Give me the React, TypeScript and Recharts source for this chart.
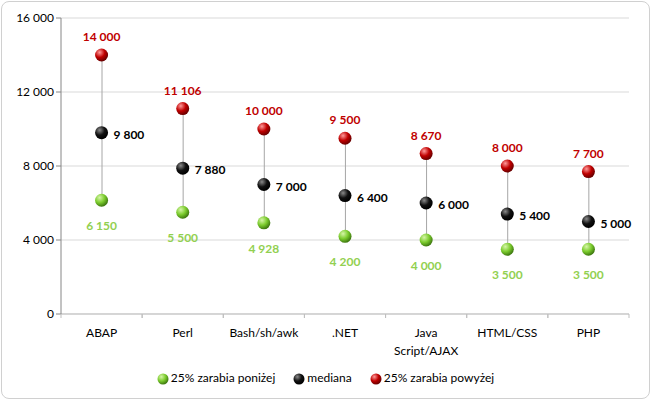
import React from 'react';
import {
  ComposedChart,
  Bar,
  Scatter,
  XAxis,
  YAxis,
  CartesianGrid,
  LabelList,
} from 'recharts';

const categories = ['ABAP', 'Perl', 'Bash/sh/awk', '.NET', 'Java\nScript/AJAX', 'HTML/CSS', 'PHP'];
const lower = [6150, 5500, 4928, 4200, 4000, 3500, 3500];
const median = [9800, 7880, 7000, 6400, 6000, 5400, 5000];
const upper = [14000, 11106, 10000, 9500, 8670, 8000, 7700];
const yTicks = [0, 4000, 8000, 12000, 16000];

const seriesNames = ['25% zarabia poniżej', 'mediana', '25% zarabia powyżej'];

const data = categories.map((name, i) => ({
  name,
  low: lower[i],
  mid: median[i],
  high: upper[i],
  range: [lower[i], upper[i]],
}));

const FONT = 'Lato, "Liberation Sans", sans-serif';
const fmt = (v: number) => v.toLocaleString('en-US').replace(/,/g, ' ');

const GRAD = {
  green: { id: 'gGreen', hi: '#d6f5a8', mid: '#7ccc2e', lo: '#3f7a10' },
  black: { id: 'gBlack', hi: '#8a8a8a', mid: '#111111', lo: '#000000' },
  red: { id: 'gRed', hi: '#ff9a9a', mid: '#c00000', lo: '#6a0000' },
};

const Ball = (grad: string) => (props: any) => {
  const { cx, cy } = props;
  if (cx == null || cy == null) return null;
  return <circle cx={cx} cy={cy} r={6.5} fill={`url(#${grad})`} />;
};

const RangeLine = (props: any) => {
  const { x, y, width, height } = props;
  if (x == null || y == null) return null;
  const cx = x + width / 2;
  return <line x1={cx} x2={cx} y1={y} y2={y + height} stroke="#a6a6a6" strokeWidth={1} />;
};

const BAND = (629 - 61) / categories.length;

const CategoryTick = (props: any) => {
  const { x, y, payload } = props;
  const lines = String(payload.value).split('\n');
  return (
    <g>
      <line x1={x - BAND / 2} x2={x - BAND / 2} y1={y - 8} y2={y - 4} stroke="#bfbfbf" />
      <line x1={x + BAND / 2} x2={x + BAND / 2} y1={y - 8} y2={y - 4} stroke="#bfbfbf" />
      {lines.map((l, i) => (
        <text
          key={i}
          x={x}
          y={y + 15 + i * 18}
          textAnchor="middle"
          fontSize={12}
          fontFamily={FONT}
          fill="#000"
        >
          {l}
        </text>
      ))}
    </g>
  );
};

const topLabel = (props: any) => {
  const { x, y, width, height, value } = props;
  const cx = x + (width || 0) / 2;
  const cy = y + (height || 0) / 2;
  return (
    <text x={cx} y={cy - 14} textAnchor="middle" fontSize={12} fontWeight="bold" fontFamily={FONT} fill="#c00000">
      {fmt(value)}
    </text>
  );
};

const rightLabel = (props: any) => {
  const { x, y, width, height, value } = props;
  const cx = x + (width || 0) / 2;
  const cy = y + (height || 0) / 2;
  return (
    <text x={cx + 12} y={cy + 6} textAnchor="start" fontSize={12} fontWeight="bold" fontFamily={FONT} fill="#000">
      {fmt(value)}
    </text>
  );
};

const bottomLabel = (props: any) => {
  const { x, y, width, height, value } = props;
  const cx = x + (width || 0) / 2;
  const cy = y + (height || 0) / 2;
  return (
    <text x={cx} y={cy + 30} textAnchor="middle" fontSize={12} fontWeight="bold" fontFamily={FONT} fill="#92d050">
      {fmt(value)}
    </text>
  );
};

function LegendBall({ color }: { color: string }) {
  const g = (GRAD as any)[color];
  return (
    <svg width={12} height={12} style={{ verticalAlign: 'middle', marginRight: 2 }}>
      <defs>
        <radialGradient id={`lg-${g.id}`} cx="35%" cy="30%" r="70%">
          <stop offset="0%" stopColor={g.hi} />
          <stop offset="55%" stopColor={g.mid} />
          <stop offset="100%" stopColor={g.lo} />
        </radialGradient>
      </defs>
      <circle cx={6} cy={6} r={5.5} fill={`url(#lg-${g.id})`} />
    </svg>
  );
}

export default function App() {
  return (
    <div
      style={{
        position: 'absolute',
        left: 0,
        top: 0,
        width: 651,
        height: 400,
        background: '#fff',
        fontFamily: FONT,
      }}
    >
      <div
        style={{
          position: 'absolute',
          left: 1,
          top: 1,
          width: 647,
          height: 396,
          border: '1px solid #d0d0d0',
          borderRadius: 8,
        }}
      />
      <ComposedChart
        width={651}
        height={400}
        data={data}
        margin={{ top: 18, right: 22, left: 0, bottom: 36 }}
      >
        <defs>
          {Object.values(GRAD).map((g) => (
            <radialGradient key={g.id} id={g.id} cx="35%" cy="30%" r="70%">
              <stop offset="0%" stopColor={g.hi} />
              <stop offset="55%" stopColor={g.mid} />
              <stop offset="100%" stopColor={g.lo} />
            </radialGradient>
          ))}
        </defs>
        <CartesianGrid vertical={false} stroke="#d9d9d9" />
        <XAxis
          dataKey="name"
          type="category"
          height={50}
          axisLine={{ stroke: '#bfbfbf' }}
          tickLine={false}
          tick={<CategoryTick />}
          interval={0}
        />
        <YAxis
          width={61}
          domain={[0, 16000]}
          ticks={yTicks}
          tickFormatter={fmt}
          axisLine={{ stroke: '#868686' }}
          tickLine={{ stroke: '#868686' }}
          tickSize={5}
          tick={{ fontSize: 12, fill: '#000', fontFamily: FONT }}
        />
        <Bar dataKey="range" shape={<RangeLine />} isAnimationActive={false} barSize={10} />
        <Scatter dataKey="low" name={seriesNames[0]} shape={Ball('gGreen')} isAnimationActive={false}>
          <LabelList dataKey="low" content={bottomLabel} />
        </Scatter>
        <Scatter dataKey="mid" name={seriesNames[1]} shape={Ball('gBlack')} isAnimationActive={false}>
          <LabelList dataKey="mid" content={rightLabel} />
        </Scatter>
        <Scatter dataKey="high" name={seriesNames[2]} shape={Ball('gRed')} isAnimationActive={false}>
          <LabelList dataKey="high" content={topLabel} />
        </Scatter>
      </ComposedChart>
      <div
        style={{
          position: 'absolute',
          top: 370,
          left: 0,
          width: 651,
          textAlign: 'center',
          fontSize: 12,
          color: '#000',
          whiteSpace: 'nowrap',
        }}
      >
        <span style={{ marginRight: 18 }}>
          <LegendBall color="green" />
          {seriesNames[0]}
        </span>
        <span style={{ marginRight: 18 }}>
          <LegendBall color="black" />
          {seriesNames[1]}
        </span>
        <span>
          <LegendBall color="red" />
          {seriesNames[2]}
        </span>
      </div>
    </div>
  );
}
